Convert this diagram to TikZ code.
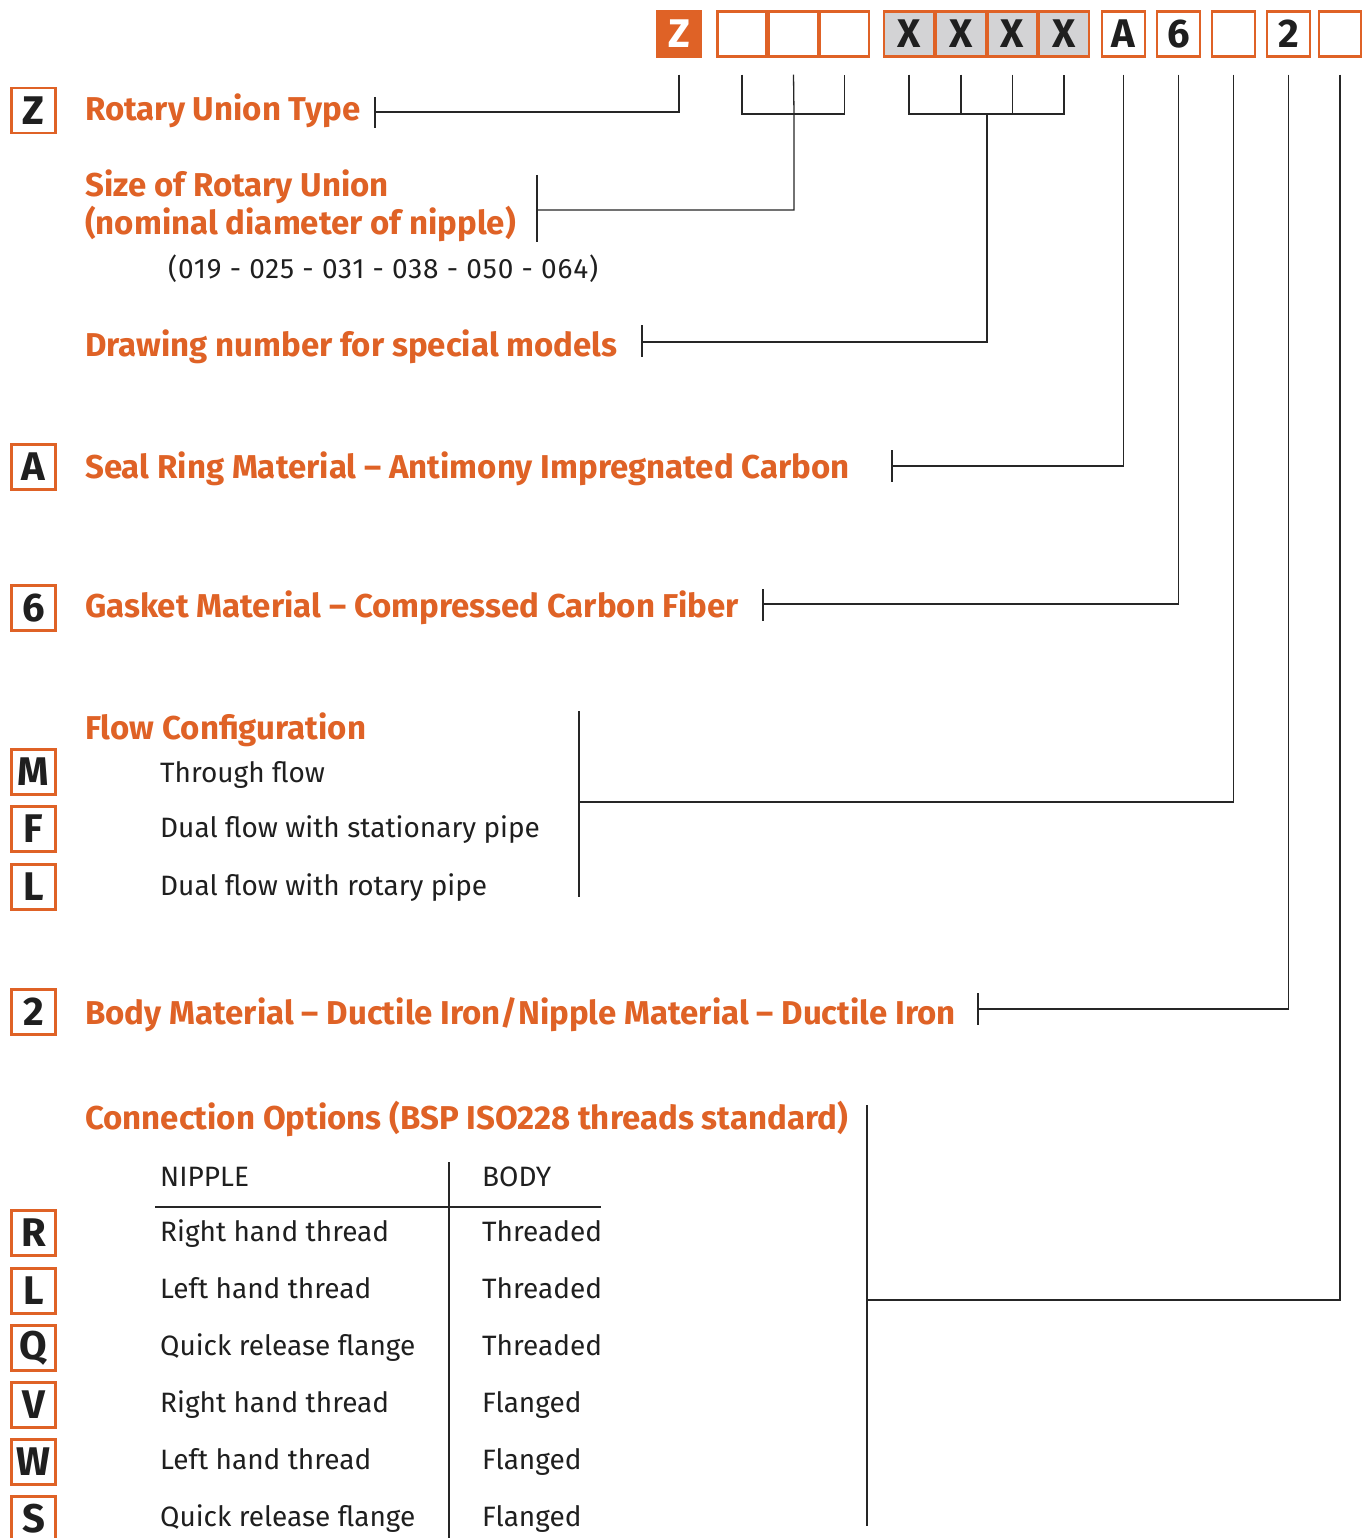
\documentclass[tikz,border=0pt]{standalone}
\usepackage{fontspec}
\setmainfont{Fira Sans}
\usetikzlibrary{positioning}
\definecolor{codeorange}{HTML}{DF6226}
\definecolor{codegray}{HTML}{D3D3D5}

\tikzset{
	codebox/.style={draw=codeorange, line width=2.4pt, minimum height=45pt, inner sep=0pt, text=black!88, font=\bfseries\fontsize{40}{40}\selectfont},
	keybox/.style={codebox, minimum width=44pt},
	title/.style={anchor=base west, inner sep=0pt, text=codeorange, font=\bfseries\fontsize{33}{38}\selectfont},
	item/.style={anchor=base west, inner sep=0pt, text=black!88, font=\fontsize{28}{32}\selectfont},
	leader/.style={line width=1.3pt, black!85},
}

\begin{document}
\begin{tikzpicture}[x=1pt, y=-1pt]
	\useasboundingbox (0,0) rectangle (1371,1538);
	
	% code row
	\node[codebox, fill=codeorange, text=white, minimum width=44pt] (cz) at (679,34) {Z};
	\node[codebox, minimum width=49pt] (s1) at (742,34) {};
	\node[codebox, minimum width=49pt] (s2) at (793.5,34) {};
	\node[codebox, minimum width=49pt] (s3) at (844.5,34) {};
	\node[codebox, fill=codegray, minimum width=49.5pt] (x1) at (909,34) {X};
	\node[codebox, fill=codegray, minimum width=49.5pt] (x2) at (961,34) {X};
	\node[codebox, fill=codegray, minimum width=49.5pt] (x3) at (1012.5,34) {X};
	\node[codebox, fill=codegray, minimum width=49.5pt] (x4) at (1064,34) {X};
	\node[codebox, minimum width=43pt] (ca) at (1123.5,34) {A};
	\node[codebox, minimum width=43pt] (c6) at (1178.5,34) {6};
	\node[codebox, minimum width=43pt] (cf) at (1233.5,34) {};
	\node[codebox, minimum width=43pt] (c2) at (1288.5,34) {2};
	\node[codebox, minimum width=42pt] (cc) at (1340,34) {};
	
	% key letters
	\node[keybox] (kz) at (33.5,110.5) {Z};
	\node[keybox] (ka) at (33.5,467) {A};
	\node[keybox] (k6) at (33.5,608) {6};
	\node[keybox] (km) at (33.5,772) {M};
	\node[keybox] (kf) at (33.5,829) {F};
	\node[keybox] (kl) at (33.5,887) {L};
	\node[keybox] (k2) at (33.5,1012) {2};
	\node[keybox] (kr) at (33.5,1233) {R};
	\node[keybox] (kl2) at (33.5,1291) {L};
	\node[keybox] (kq) at (33.5,1348) {Q};
	\node[keybox] (kv) at (33.5,1405) {V};
	\node[keybox] (kw) at (33.5,1462) {W};
	\node[keybox] (ks) at (33.5,1519) {S};
	
	% titles and items
	\node[title] (ttype) at (85,121) {Rotary Union Type};
	\node[title] (tsize) at (85,197) {Size of Rotary Union};
	\node[title] (tnom) at (85,235) {(nominal diameter of nipple)};
	\node[item, font=\fontsize{28}{32}\selectfont\addfontfeature{LetterSpace=3}] (isize) at (168,278) {(019 - 025 - 031 - 038 - 050 - 064)};
	\node[title] (tdraw) at (85,356) {Drawing number for special models};
	\node[title] (tseal) at (85,478) {Seal Ring Material – Antimony Impregnated Carbon};
	\node[title] (tgask) at (85,617) {Gasket Material – Compressed Carbon Fiber};
	\node[title] (tflow) at (85,739) {Flow Configuration};
	\node[item] (im) at (160,782) {Through flow};
	\node[item] (if) at (160,837) {Dual flow with stationary pipe};
	\node[item] (il) at (160,895) {Dual flow with rotary pipe};
	\node[title] (tbody) at (85,1024) {Body Material – Ductile Iron/Nipple Material – Ductile Iron};
	\node[title] (tconn) at (85,1129) {Connection Options (BSP ISO228 threads standard)};
	
	% connection table
	\node[item] (hn) at (160,1186) {NIPPLE};
	\node[item] (hb) at (482,1186) {BODY};
	\foreach \y/\n/\b [count=\i] in {1241/Right hand thread/Threaded, 1298/Left hand thread/Threaded, 1355/Quick release flange/Threaded, 1412/Right hand thread/Flanged, 1469/Left hand thread/Flanged, 1526/Quick release flange/Flanged}
	{
		\node[item] (n\i) at (160,\y) {\n};
		\node[item] (b\i) at (482,\y) {\b};
	}
	\coordinate (colt) at (449,1162);
	\coordinate (colb) at (449,1538);
	\coordinate (rowl) at (155,1207);
	\coordinate (rowr) at (601,1207);
	\draw[leader] (colt) -- (colb);
	\draw[leader, line width=2pt] (rowl) -- (rowr);
	
	% tick points
	\coordinate (tz) at (375,112);
	\coordinate (ts) at (537,210);
	\coordinate (td) at (642,342);
	\coordinate (ta) at (892,466);
	\coordinate (tg) at (763,604);
	\coordinate (tf) at (579,802);
	\coordinate (tb) at (978,1009);
	\coordinate (tc) at (867,1300);
	\coordinate (sj) at (794,114);
	\coordinate (xj) at (987,114);
	
	% leaders
	\draw[leader] ([yshift=-17pt]cz.south) |- (tz);
	\draw[leader] ([yshift=-17pt]s1.south) |- (sj) -| ([yshift=-17pt]s3.south);
	\draw[leader] ([yshift=-17pt]s2.south) -- (sj) |- (ts);
	\draw[leader] ([yshift=-17pt]x1.south) |- (xj) -| ([yshift=-17pt]x4.south);
	\draw[leader] ([yshift=-17pt]x2.south) -- (x2.south |- xj);
	\draw[leader] ([yshift=-17pt]x3.south) -- (x3.south |- xj);
	\draw[leader] (xj) |- (td);
	\draw[leader] ([yshift=-17pt]ca.south) |- (ta);
	\draw[leader] ([yshift=-17pt]c6.south) |- (tg);
	\draw[leader] ([yshift=-17pt]cf.south) |- (tf);
	\draw[leader] ([yshift=-17pt]c2.south) |- (tb);
	\draw[leader] ([yshift=-17pt]cc.south) |- (tc);
	
	% ticks
	\draw[leader] ([yshift=15pt]tz) -- ([yshift=-16pt]tz);
	\draw[leader] ([yshift=35pt]ts) -- ([yshift=-32pt]ts);
	\draw[leader] ([yshift=17pt]td) -- ([yshift=-15pt]td);
	\draw[leader] ([yshift=16pt]ta) -- ([yshift=-16pt]ta);
	\draw[leader] ([yshift=15pt]tg) -- ([yshift=-17pt]tg);
	\draw[leader] ([yshift=91pt]tf) -- ([yshift=-95pt]tf);
	\draw[leader] ([yshift=16pt]tb) -- ([yshift=-16pt]tb);
	\draw[leader] ([yshift=195pt]tc) -- ([yshift=-226pt]tc);
	
\end{tikzpicture}
\end{document}
